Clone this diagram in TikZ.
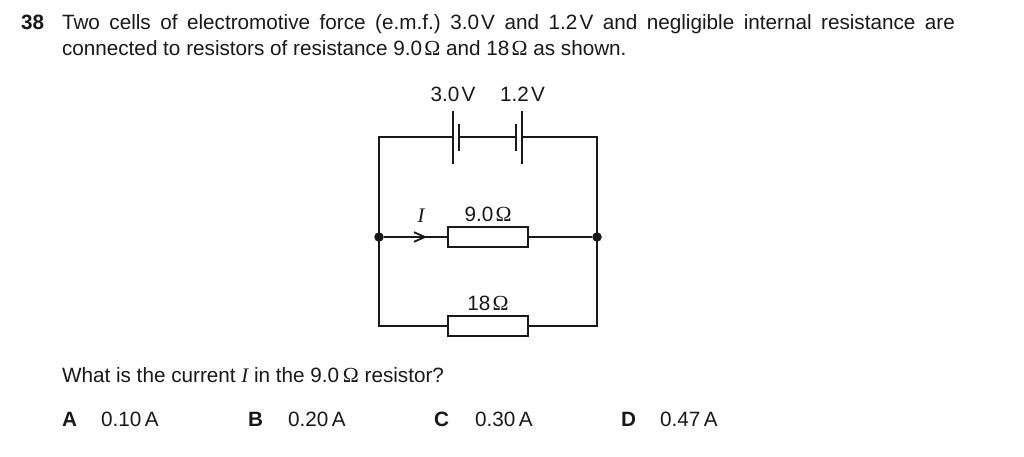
\documentclass[tikz,border=0pt]{standalone}
\usepackage{fontspec}
\setmainfont{Liberation Sans}
\newfontfamily\serifomega{Liberation Serif}
\newcommand{\ohm}{{\serifomega\fontsize{21.5}{25}\selectfont Ω}}
\newcommand{\thin}{\kern2.2pt}
\newcommand{\wide}{\kern3.6pt}
\definecolor{ink}{RGB}{25,25,25}
\tikzset{
  x=1pt,y=-1pt,
  txt/.style={anchor=base west,inner sep=0pt,outer sep=0pt,text=ink,font=\fontsize{20.7}{25}\selectfont},
  lab/.style={anchor=base,inner sep=0pt,outer sep=0pt,text=ink,font=\fontsize{20.7}{25}\selectfont},
  wire/.style={draw=ink,line width=1.8pt},
  resistor/.style={draw=ink,line width=1.8pt,fill=white,minimum width=80pt,minimum height=20pt,inner sep=0pt,outer sep=0pt},
  junction/.style={circle,fill=ink,minimum size=9.5pt,inner sep=0pt,outer sep=0pt},
}
\begin{document}
\begin{tikzpicture}
\useasboundingbox (0,0) rectangle (1024,457);
\fill[white] (0,0) rectangle (1024,457);
% text
\node[txt,font=\fontsize{20.7}{25}\selectfont\bfseries] (qn) at (21,29.7) {38};
\node[txt] (l1) at (62,29.7) {\hbox to 893pt{Two\hfil cells\hfil of\hfil electromotive\hfil force\hfil (e.m.f.)\hfil 3.0\thin V\hfil and\hfil 1.2\thin V\hfil and\hfil negligible\hfil internal\hfil resistance\hfil are}};
\node[txt] (l2) at (62,55.7) {connected to resistors of resistance 9.0\thin\ohm\ and 18\thin\ohm\ as shown.};
\node[lab] (v1) at (453,102) {3.0\thin V};
\node[lab] (v2) at (522.5,102) {1.2\thin V};
\node[lab,font=\fontsize{20.7}{25}\selectfont\serifomega\itshape] (i) at (421,222) {I};
\node[lab] (r1l) at (488,221) {9.0\thin\ohm};
\node[lab] (r2l) at (488,310.5) {18\thin\ohm};
\node[txt] (q) at (62,382.5) {What is the current {\serifomega\itshape I} in the 9.0\wide\ohm\ resistor?};
\node[txt,font=\fontsize{20.7}{25}\selectfont\bfseries] (a) at (62,426.5) {A};
\node[txt] (at) at (101,426.5) {0.10\wide A};
\node[txt,font=\fontsize{20.7}{25}\selectfont\bfseries] (b) at (248,426.5) {B};
\node[txt] (bt) at (288,426.5) {0.20\wide A};
\node[txt,font=\fontsize{20.7}{25}\selectfont\bfseries] (c) at (434,426.5) {C};
\node[txt] (ct) at (475,426.5) {0.30\wide A};
\node[txt,font=\fontsize{20.7}{25}\selectfont\bfseries] (d) at (621,426.5) {D};
\node[txt] (dt) at (660,426.5) {0.47\wide A};
% circuit nodes
\node[junction] (jl) at (379,237) {};
\node[junction] (jr) at (597,237) {};
\node[resistor] (r1) at (488,237) {};
\node[resistor] (r2) at (488,326) {};
\coordinate (tl) at (379,137);
\coordinate (tr) at (597,137);
\coordinate (bl) at (379,326);
\coordinate (br) at (597,326);
\coordinate (c1l) at (453,137);
\coordinate (c1s) at (459,137);
\coordinate (c2s) at (516,137);
\coordinate (c2l) at (522,137);
\coordinate (tip) at (425,237);
% wires
\draw[wire,line join=miter] (c1l) -- (tl) -- (bl) -- (r2.west);
\draw[wire,line join=miter] (c2l) -- (tr) -- (br) -- (r2.east);
\draw[wire] (c1s) -- (c2s);
\draw[wire] (jl) -- (r1.west);
\draw[wire] (r1.east) -- (jr);
% cell plates
\draw[wire] ([yshift=-27pt]c1l) -- ([yshift=26pt]c1l);
\draw[wire] ([yshift=-14pt]c1s) -- ([yshift=13pt]c1s);
\draw[wire] ([yshift=-14pt]c2s) -- ([yshift=13pt]c2s);
\draw[wire] ([yshift=-27pt]c2l) -- ([yshift=26pt]c2l);
% arrow
\draw[wire,line join=miter] ([xshift=-11pt,yshift=4.8pt]tip) -- (tip) -- ([xshift=-11pt,yshift=-4.8pt]tip);
\end{tikzpicture}
\end{document}
